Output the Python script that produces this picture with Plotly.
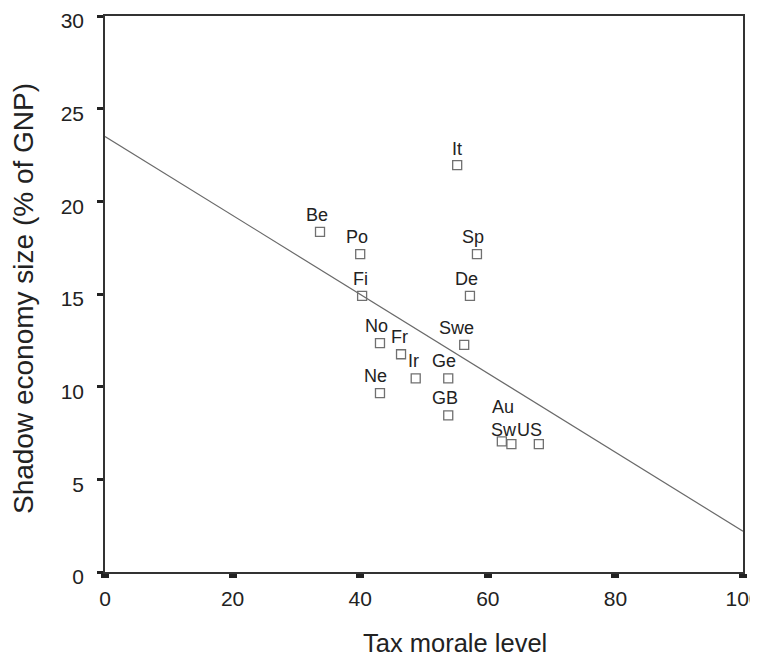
import plotly.graph_objects as go

countries = ["Be", "Po", "Fi", "It", "Sp", "De", "No", "Fr", "Ir", "Ge",
             "Swe", "Ne", "GB", "Au", "Sw", "US"]
tax_morale = [33.7, 40.0, 40.3, 55.2, 58.3, 57.2, 43.1, 46.4, 48.7, 53.8,
              56.3, 43.1, 53.8, 62.2, 63.7, 68.0]
shadow_economy = [18.35, 17.15, 14.9, 21.95, 17.15, 14.9, 12.35, 11.75, 10.45, 10.45,
                  12.25, 9.65, 8.45, 7.05, 6.9, 6.9]

fit_x = [0, 100]
fit_y = [23.5, 2.2]

x_ticks = [0, 20, 40, 60, 80, 100]
y_ticks = [0, 5, 10, 15, 20, 25, 30]

x_title = "Tax morale level"
y_title = "Shadow economy size (% of GNP)"

# label offsets (pixels) to mimic the original placement
label_dx = [-3, -3, -2, 0, -4, -3, -3, -2, -2, -4, -8, -4, -3, 1, -7, -9]
label_dy = [17, 17, 17, 16, 17, 17, 17, 17, 17, 17, 17, 17, 17, 34, 14, 14]

FONT = "Liberation Sans, Arial, sans-serif"

fig = go.Figure()
fig.add_trace(go.Scatter(
    x=fit_x, y=fit_y, mode="lines",
    line=dict(color="#6a6a6a", width=1.2),
    showlegend=False, hoverinfo="skip",
))
fig.add_trace(go.Scatter(
    x=tax_morale, y=shadow_economy, mode="markers",
    marker=dict(symbol="square-open", size=9, color="#707070", line=dict(width=1.3)),
    text=countries, showlegend=False,
))

for c, xv, yv, dx, dy in zip(countries, tax_morale, shadow_economy, label_dx, label_dy):
    fig.add_annotation(x=xv, y=yv, text=c, showarrow=False,
                       xshift=dx, yshift=dy, xanchor="center", yanchor="middle",
                       font=dict(size=18, color="#222222", family=FONT))

fig.add_annotation(xref="paper", yref="paper", x=0.549, y=-0.127, text=x_title,
                   showarrow=False, xanchor="center", yanchor="middle",
                   font=dict(size=25.5, color="#222222", family=FONT))
fig.add_annotation(xref="paper", yref="paper", x=-0.1285, y=0.491, text=y_title,
                   textangle=-90, showarrow=False, xanchor="center", yanchor="middle",
                   font=dict(size=28, color="#222222", family=FONT))

fig.update_layout(
    width=750, height=648,
    margin=dict(l=97, r=15, t=8, b=84),
    paper_bgcolor="white", plot_bgcolor="white",
    font=dict(family=FONT, color="#222222"),
    xaxis=dict(
        range=[0, 100], tickvals=x_ticks, ticktext=[str(v) for v in x_ticks],
        showgrid=False, zeroline=False, automargin=False,
        showline=True, linecolor="#333333", linewidth=1.5, mirror=True,
        ticks="outside", ticklen=4, tickwidth=8, tickcolor="#222222",
        tickfont=dict(size=21), ticklabelstandoff=3, ticklabeloverflow="allow",
    ),
    yaxis=dict(
        range=[0, 30], tickvals=y_ticks, ticktext=[str(v) for v in y_ticks],
        showgrid=False, zeroline=False, automargin=False,
        showline=True, linecolor="#333333", linewidth=1.5, mirror=True,
        ticks="outside", ticklen=6, tickwidth=3, tickcolor="#222222",
        tickfont=dict(size=21), ticklabelstandoff=9, ticklabelshift=5,
        ticklabeloverflow="allow",
    ),
)

fig.write_html("out.html")
